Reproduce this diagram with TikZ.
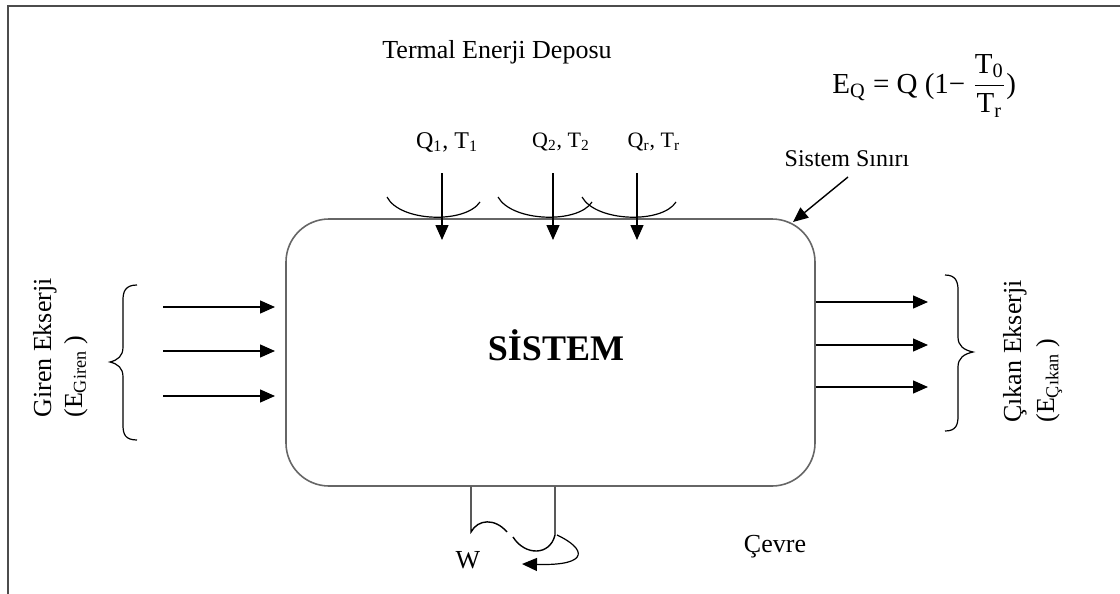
\documentclass[tikz,border=0pt]{standalone}
\usepackage{fontspec}
\setmainfont{Liberation Serif}
\usetikzlibrary{arrows.meta,positioning}
\begin{document}
\begin{tikzpicture}[x=0.5pt,y=-0.5pt,
    arr/.style={-{Triangle[length=7.5pt,width=6.5pt]},line width=0.7pt},
    lbl/.style={font=\fontsize{13}{16}\selectfont,inner sep=0pt},
    qlbl/.style={font=\fontsize{11}{13}\selectfont,inner sep=0pt}]
    \useasboundingbox (0,0) rectangle (1120,594);
    \draw[line width=1pt,black!70] (8,594) -- (8,6) -- (1120,6);
    % system
    \node[draw=black!60,line width=0.8pt,rounded corners=21.5pt,minimum width=264.5pt,minimum height=133.5pt,inner sep=0pt] (sys) at (550.5,352.5) {};
    \node[font=\fontsize{18}{22}\selectfont\bfseries,inner sep=0pt] (systxt) at (556,345) {SİSTEM};
    \node[lbl] (depo) at (497,52) {Termal Enerji Deposu};
    \node[lbl,anchor=base west,font=\fontsize{14.5}{16}\selectfont] (eq) at (832,93) {E\textsubscript{Q} = Q (1− {$\displaystyle\frac{\mbox{T\textsubscript{0}}}{\mbox{T\textsubscript{r}}}$})};
    % heat inputs
    \node[qlbl,font=\fontsize{12}{14}\selectfont] (q1) at (447,142) {Q\textsubscript{1}, T\textsubscript{1}};
    \node[qlbl] (q2) at (561,142) {Q\textsubscript{2}, T\textsubscript{2}};
    \node[qlbl] (qr) at (654,142) {Q\textsubscript{r}, T\textsubscript{r}};
    \foreach \x/\n in {442/1,553/2,637/3} {
        \coordinate (in\n) at (\x,173);
        \draw[arr] (in\n) -- ++(0,67);
    }
    \draw[line width=0.6pt] (387,197) .. controls (400,222) and (465,224) .. (480,202);
    \draw[line width=0.6pt] (498,197) .. controls (512,222) and (578,224) .. (592,202);
    \draw[line width=0.6pt] (582,197) .. controls (596,222) and (662,224) .. (676,202);
    \node[lbl,font=\fontsize{12}{14}\selectfont] (sinir) at (847,159) {Sistem Sınırı};
    \coordinate (corner) at (793,222);
    \draw[arr] (848,177) -- (corner);
    % exergy in / out
    \foreach \y in {307,351,396}
        \draw[arr] (163,\y) -- (275,\y);
    \foreach \y in {302,345,387}
        \draw[arr] (sys.east |- 0,\y) -- (928,\y);
    \draw[line width=0.6pt] (137,285) .. controls (125,285) and (123,292) .. (123,300) -- (123,347) .. controls (123,356) and (118,360) .. (110,362) .. controls (118,364) and (123,368) .. (123,377) -- (123,425) .. controls (123,434) and (125,440) .. (137,440);
    \draw[line width=0.6pt] (945,275) .. controls (956,275) and (958,282) .. (958,290) -- (958,337) .. controls (958,346) and (964,350) .. (973,352) .. controls (964,354) and (958,358) .. (958,367) -- (958,416) .. controls (958,425) and (956,431) .. (945,431);
    \node[lbl,rotate=90,anchor=base west] (giren) at (51,418) {Giren Ekserji};
    \node[lbl,rotate=90,anchor=base west] (egiren) at (82,418) {(E\textsubscript{Giren} )};
    \node[lbl,rotate=90,anchor=base west] (cikan) at (1021,423) {Çıkan Ekserji};
    \node[lbl,rotate=90,anchor=base west] (ecikan) at (1054,423) {(E\textsubscript{Çıkan} )};
    % work
    \draw[line width=0.7pt] (sys.south -| 471,0) -- (471,532) .. controls (478,519) and (495,518) .. (507,532);
    \draw[line width=0.7pt] (513,537) .. controls (525,556) and (550,556) .. (555,535) -- (sys.south -| 555,0);
    \draw[arr,line width=0.6pt] (557,535) .. controls (585,548) and (592,566) .. (522,564);
    \node[lbl] (w) at (468,560) {W};
    \node[lbl] (cevre) at (775,547) {Çevre};
\end{tikzpicture}
\end{document}
